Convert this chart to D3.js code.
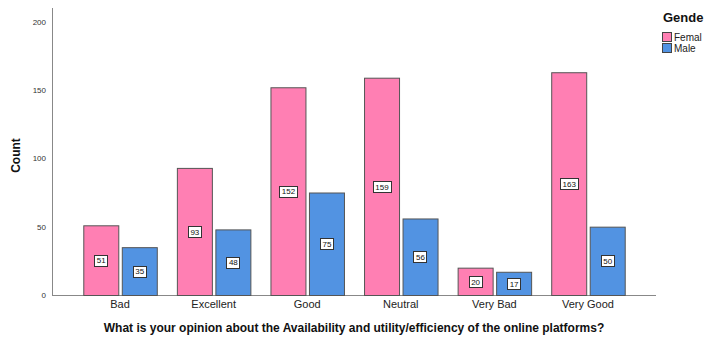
<!DOCTYPE html>
<html>
<head>
<meta charset="utf-8">
<script src="https://cdn.jsdelivr.net/npm/d3@7"></script>
<style>
  html, body { margin: 0; padding: 0; background: #fff; overflow: hidden; }
  svg { display: block; font-family: Arial, "Liberation Sans", sans-serif; }
</style>
</head>
<body>
<svg id="chart" width="704" height="342"></svg>
<script>
// Survey responses by gender
const categories = ["Bad", "Excellent", "Good", "Neutral", "Very Bad", "Very Good"];
const legendTitle = "Gende";
const seriesNames = ["Femal", "Male"];
const femaleCounts = [51, 93, 152, 159, 20, 163];
const maleCounts = [35, 48, 75, 56, 17, 50];
const yTicks = [0, 50, 100, 150, 200];
const colors = ["#FF7FB3", "#5293E2"];

const svg = d3.select("#chart");
const plotLeft = 52, plotRight = 656, plotTop = 8, plotBottom = 295;

const x = d3.scaleBand().domain(categories).range([plotLeft, plotRight]).paddingInner(0).paddingOuter(0.227);
const y = d3.scaleLinear().domain([0, 210]).range([plotBottom, plotTop]);

const barW = 35, gap = 3.5;
const series = [femaleCounts, maleCounts];

// axes lines
svg.append("line").attr("x1", plotLeft + 0.5).attr("x2", plotLeft + 0.5).attr("y1", plotTop).attr("y2", plotBottom + 1)
  .attr("stroke", "#888").attr("stroke-width", 1);
svg.append("line").attr("x1", plotLeft).attr("x2", plotRight).attr("y1", plotBottom + 0.5).attr("y2", plotBottom + 0.5)
  .attr("stroke", "#888").attr("stroke-width", 1);

// y tick labels
const yAxis = svg.append("g").attr("transform", `translate(${plotLeft},0)`)
  .call(d3.axisLeft(y).tickValues(yTicks).tickSize(0).tickPadding(6));
yAxis.select(".domain").remove();
yAxis.selectAll("text").attr("font-size", 8).attr("fill", "#333").attr("font-family", "Arial, 'Liberation Sans', sans-serif");

// x tick labels
const xAxis = svg.append("g").attr("transform", `translate(0,${plotBottom})`)
  .call(d3.axisBottom(x).tickSize(0).tickPadding(5));
xAxis.select(".domain").remove();
xAxis.selectAll("text").attr("font-size", 11).attr("fill", "#222").attr("font-family", "Arial, 'Liberation Sans', sans-serif");

// bars with boxed value labels
series.forEach((vals, si) => {
  const g = svg.append("g");
  categories.forEach((c, i) => {
    const cx = x(c) + x.bandwidth() / 2;
    const bx = si === 0 ? cx - gap / 2 - barW : cx + gap / 2;
    const v = vals[i];
    g.append("rect")
      .attr("x", bx + 0.5).attr("y", y(v) + 0.5)
      .attr("width", barW).attr("height", y(0) - y(v))
      .attr("fill", colors[si]).attr("stroke", "#555").attr("stroke-width", 1);
    const my = (y(v) + y(0)) / 2;
    const txt = String(v);
    const bw = txt.length * 4.6 + 4;
    g.append("rect")
      .attr("x", Math.round(bx + barW / 2 - bw / 2) + 0.5).attr("y", Math.round(my - 5.5) + 0.5)
      .attr("width", Math.round(bw)).attr("height", 11)
      .attr("fill", "#fff").attr("stroke", "#333").attr("stroke-width", 1);
    g.append("text")
      .attr("x", bx + barW / 2 + 0.5).attr("y", my + 3.2)
      .attr("text-anchor", "middle").attr("font-size", 8).attr("fill", "#111")
      .text(txt);
  });
});

// axis titles
svg.append("text").attr("transform", `translate(20,${(plotTop + plotBottom) / 2 + 4}) rotate(-90)`)
  .attr("text-anchor", "middle").attr("font-size", 12).attr("font-weight", "bold").attr("fill", "#111")
  .text("Count");
svg.append("text").attr("x", (plotLeft + plotRight) / 2).attr("y", 332)
  .attr("text-anchor", "middle").attr("font-size", 12).attr("font-weight", "bold").attr("fill", "#111")
  .text("What is your opinion about the Availability and utility/efficiency of the online platforms?");

// legend
const lg = svg.append("g");
lg.append("text").attr("x", 663).attr("y", 22).attr("font-size", 13).attr("font-weight", "bold").attr("fill", "#111")
  .text(legendTitle);
seriesNames.forEach((n, i) => {
  lg.append("rect").attr("x", 662.5).attr("y", 32.5 + i * 11).attr("width", 9).attr("height", 9)
    .attr("fill", colors[i]).attr("stroke", "#444").attr("stroke-width", 1);
  lg.append("text").attr("x", 674).attr("y", 41 + i * 11).attr("font-size", 10).attr("fill", "#222").text(n);
});
</script>
</body>
</html>
